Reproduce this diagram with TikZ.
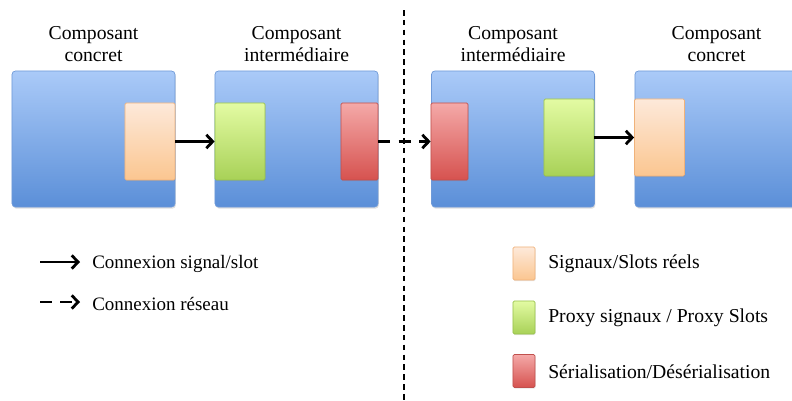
\documentclass[tikz,border=0pt]{standalone}
\usepackage{fontspec}
\setmainfont{Liberation Serif}
\usetikzlibrary{arrows.meta,shadows,positioning}
\definecolor{bluetop}{HTML}{AACAF8}
\definecolor{bluebot}{HTML}{5B8FD8}
\definecolor{blueline}{HTML}{6F9AD8}
\definecolor{orangetop}{HTML}{FDE9DA}
\definecolor{orangebot}{HTML}{FBC690}
\definecolor{orangeline}{HTML}{F0B27A}
\definecolor{greentop}{HTML}{E3FBA3}
\definecolor{greenbot}{HTML}{A8D157}
\definecolor{greenline}{HTML}{98C24C}
\definecolor{redtop}{HTML}{F4A9A8}
\definecolor{redbot}{HTML}{D6524F}
\definecolor{redline}{HTML}{C0504D}

\begin{document}
\begin{tikzpicture}[x=0.025cm,y=-0.025cm,
	comp/.style={draw=blueline,line width=0.5pt,rounded corners=2.5pt,top color=bluetop,bottom color=bluebot,
		minimum width=4.075cm,minimum height=3.4cm,inner sep=0pt,
		drop shadow={opacity=0.25,shadow xshift=0.6pt,shadow yshift=-1.2pt}},
	port/.style={line width=0.5pt,rounded corners=1pt,minimum height=1.925cm,inner sep=0pt,
		drop shadow={opacity=0.2,shadow xshift=0.5pt,shadow yshift=-0.8pt}},
	sig/.style={port,draw=orangeline,top color=orangetop,bottom color=orangebot,minimum width=1.25cm},
	prox/.style={port,draw=greenline,top color=greentop,bottom color=greenbot,minimum width=1.25cm},
	ser/.style={port,draw=redline,top color=redtop,bottom color=redbot,minimum width=0.925cm},
	key/.style={port,minimum width=0.55cm,minimum height=0.825cm},
	title/.style={align=center,font=\fontsize{14}{15.5}\selectfont,inner sep=0pt},
	legtxt/.style={anchor=west,font=\fontsize{13.5}{15}\selectfont,inner sep=0pt},
	conn/.style={line width=2pt,-{Straight Barb[length=4.5pt,width=9.5pt]}},
	net/.style={conn,dash pattern=on 8.5pt off 6pt}]
		\useasboundingbox (0,0) rectangle (792,401);
		\clip (0,0) rectangle (792,401);
		%%%%% COMPONENTS %%%%%
		\node[comp] (compA) at (93.5,139) {};
		\node[comp] (compB) at (296.5,139) {};
		\node[comp] (compC) at (513,139) {};
		\node[comp] (compD) at (716.5,139) {};
		
		\node[title,above=6.5pt of compA] (titA) {Composant\\concret};
		\node[title,above=6.5pt of compB] (titB) {Composant\\intermédiaire};
		\node[title,above=6.5pt of compC] (titC) {Composant\\intermédiaire};
		\node[title,above=6.5pt of compD] (titD) {Composant\\concret};
		
		\node[sig] (sigA) at (150,141.5) {};
		\node[prox] (proxB) at (240,141.5) {};
		\node[ser] (serB) at (359.5,141.5) {};
		\node[ser] (serC) at (449.5,141.5) {};
		\node[prox] (proxC) at (569,137.5) {};
		\node[sig] (sigD) at (659.5,137.5) {};
		
		\draw[conn] (sigA) -- (proxB);
		\draw[net] (serB) -- (serC);
		\draw[conn] (proxC) -- (sigD);
		
		%%%%% SEPARATOR %%%%%
		\coordinate (sepTop) at (404,10);
		\coordinate (sepBot) at (404,401);
		\draw[line width=0.9pt,dash pattern=on 4pt off 3pt] (sepTop) -- (sepBot);
		
		%%%%% LEGEND %%%%%
		\coordinate (solA) at (40,262);
		\coordinate (solB) at (80,262);
		\coordinate (dasA) at (40,302);
		\coordinate (dasB) at (80,302);
		\draw[conn] (solA) -- (solB);
		\draw[net] (dasA) -- (dasB);
		\node[legtxt] (txtSol) at (92,264) {Connexion signal/slot};
		\node[legtxt] (txtNet) at (92,304) {Connexion réseau};
		
		\node[key,draw=orangeline,top color=orangetop,bottom color=orangebot] (keySig) at (524,263.5) {};
		\node[key,draw=greenline,top color=greentop,bottom color=greenbot] (keyProx) at (524,317.5) {};
		\node[key,draw=redline,top color=redtop,bottom color=redbot] (keySer) at (524,371) {};
		\node[legtxt,font=\fontsize{14}{15}\selectfont] (txtSig) at (548,264) {Signaux/Slots réels};
		\node[legtxt,font=\fontsize{14}{15}\selectfont] (txtProx) at (548,318) {Proxy signaux / Proxy Slots};
		\node[legtxt,font=\fontsize{14}{15}\selectfont] (txtSer) at (548,372) {Sérialisation/Désérialisation};
	\end{tikzpicture}
\end{document}
